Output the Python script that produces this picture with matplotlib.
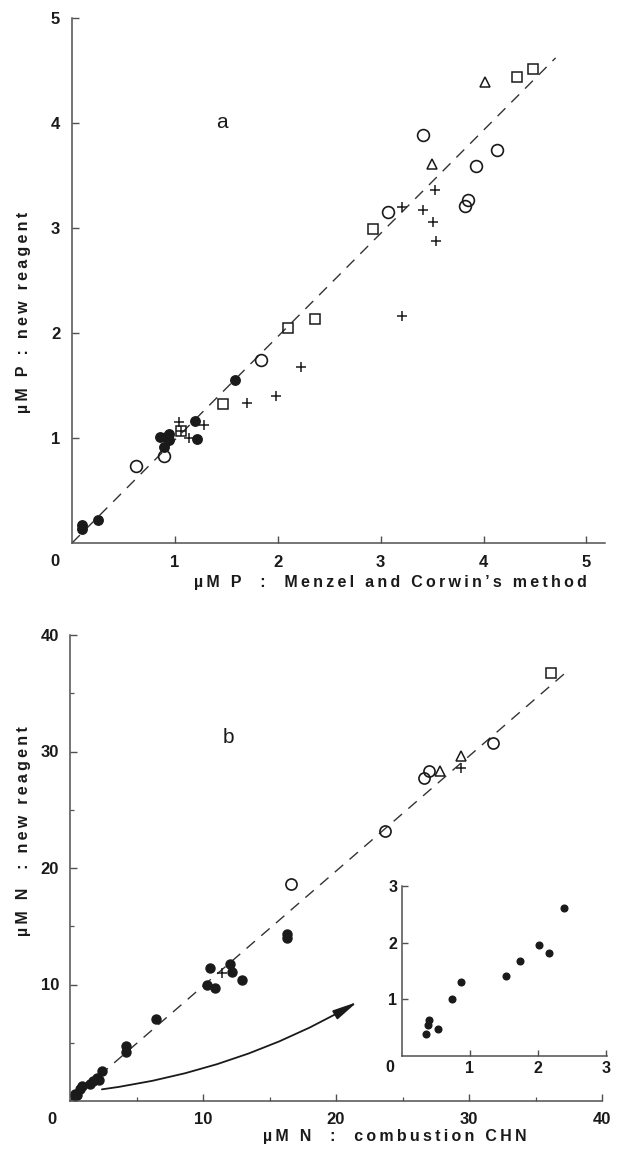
import matplotlib
matplotlib.use("Agg")
import matplotlib.pyplot as plt
from matplotlib.ticker import FixedLocator

plt.rcParams['font.family'] = ['Liberation Sans', 'DejaVu Sans']

# ---------------- data : panel a (phosphorus) ----------------
a_filled_x = [0.10, 0.10, 0.25, 0.89, 0.86, 0.91, 0.94, 0.94, 1.21, 1.20, 1.58]
a_filled_y = [0.17, 0.13, 0.22, 0.91, 1.01, 1.01, 1.04, 0.98, 0.99, 1.16, 1.55]
a_circle_x = [0.62, 0.89, 1.84, 3.07, 3.82, 3.85, 3.93, 4.13, 3.41]
a_circle_y = [0.73, 0.83, 1.74, 3.15, 3.21, 3.27, 3.59, 3.74, 3.89]
a_square_x = [1.06, 1.47, 2.10, 2.36, 2.93, 4.32, 4.48]
a_square_y = [1.07, 1.32, 2.05, 2.13, 2.99, 4.44, 4.51]
a_tri_x = [3.50, 4.01]
a_tri_y = [3.61, 4.39]
a_plus_x = [1.04, 1.06, 1.14, 1.28, 1.70, 1.98, 2.23, 3.21, 3.21, 3.41, 3.51, 3.53, 3.54]
a_plus_y = [1.15, 1.07, 1.00, 1.12, 1.33, 1.40, 1.68, 2.16, 3.20, 3.17, 3.06, 3.36, 2.88]
a_line_x = [0.0, 4.70]
a_line_y = [0.0, 4.62]
a_ticks = [1, 2, 3, 4, 5]

# ---------------- data : panel b (nitrogen) ----------------
b_circle_x = [16.6, 23.7, 26.6, 27.0, 31.8]
b_circle_y = [18.6, 23.2, 27.7, 28.3, 30.7]
b_tri_x = [27.8, 29.4]
b_tri_y = [28.3, 29.6]
b_plus_x = [11.4, 29.4]
b_plus_y = [11.0, 28.6]
b_square_x = [36.2]
b_square_y = [36.7]
b_filled_x = [16.3, 16.3, 12.0, 10.5, 12.2, 12.9, 10.3, 10.9, 6.5, 4.2, 4.2]
b_filled_y = [14.3, 14.0, 11.8, 11.4, 11.1, 10.4, 10.0, 9.7, 7.0, 4.7, 4.2]
inset_x = [0.35, 0.39, 0.40, 0.53, 0.73, 0.87, 1.53, 1.74, 2.02, 2.17, 2.38]
inset_y = [0.39, 0.55, 0.63, 0.48, 1.01, 1.31, 1.42, 1.68, 1.96, 1.81, 2.61]
b_line_x = [0.0, 37.5]
b_line_y = [0.0, 37.0]
b_major = [10, 20, 30, 40]
b_minor = [5, 15, 25, 35]
inset_ticks = [1, 2, 3]

W, H = 618, 1153
fig = plt.figure(figsize=(W / 100, H / 100), dpi=100)

SP = '#505050'
INK = '#1a1a1a'


def px_axes(x0, y_top, x1, y_bot):
    return fig.add_axes([x0 / W, 1 - y_bot / H, (x1 - x0) / W, (y_bot - y_top) / H])


def style(ax, pad, size=12):
    for s in ('top', 'right'):
        ax.spines[s].set_visible(False)
    for s in ('left', 'bottom'):
        ax.spines[s].set_color(SP)
        ax.spines[s].set_linewidth(1.1)
    ax.tick_params(which='major', direction='in', length=5, width=1, color=SP,
                   labelsize=size, pad=pad, labelcolor=INK)
    ax.tick_params(which='minor', direction='in', length=3, width=0.9, color=SP)
    for lab in ax.get_xticklabels() + ax.get_yticklabels():
        lab.set_fontweight('bold')
    ax.patch.set_alpha(0)


def spaced(s):
    return '\u2009'.join(s)


mk = dict(linestyle='none', color=INK)
dash = dict(color='#333333', lw=1.0, dashes=(8, 6))

# ---------------- panel a ----------------
ax = px_axes(72, 18, 605, 543)
ax.set_xlim(0, 5.18)
ax.set_ylim(0, 5)
ax.plot(a_line_x, a_line_y, **dash)
ax.plot(a_filled_x, a_filled_y, marker='o', ms=6.8, mfc=INK, mec=INK, **mk)
ax.plot(a_circle_x, a_circle_y, marker='o', ms=8.5, mfc='none', mec=INK, mew=1.2, **mk)
ax.plot(a_square_x, a_square_y, marker='s', ms=7, mfc='none', mec=INK, mew=1.1, **mk)
ax.plot(a_tri_x, a_tri_y, marker='^', ms=7.5, mfc='none', mec=INK, mew=1.1, **mk)
ax.plot(a_plus_x, a_plus_y, marker='+', ms=7, mec=INK, mew=1.1, **mk)
ax.xaxis.set_major_locator(FixedLocator(a_ticks))
ax.yaxis.set_major_locator(FixedLocator(a_ticks))
style(ax, pad=8.5)
ax.annotate('0', xy=(0, 0), xytext=(-12, -13.5), textcoords='offset points',
            ha='center', va='center', fontsize=12, fontweight='bold', color=INK)
ax.text(1.46, 4.0, 'a', fontsize=15, color=INK, ha='center', va='center')

fig.text(24 / W, 1 - 312 / H, spaced('µM P : new reagent'), rotation=90,
         ha='center', va='center', fontsize=11.5, fontweight='bold', color=INK)
fig.text(390 / W, 1 - 582 / H, spaced('µM P  :  Menzel and Corwin\u2019s method'),
         ha='center', va='center', fontsize=11.5, fontweight='bold', color=INK)

# ---------------- panel b ----------------
bx = px_axes(70, 635, 602, 1101)
bx.set_xlim(0, 40)
bx.set_ylim(0, 40)
bx.plot(b_line_x, b_line_y, **dash)
bx.plot(b_filled_x, b_filled_y, marker='o', ms=6.5, mfc=INK, mec=INK, **mk)
bx.plot(inset_x, inset_y, marker='o', ms=6.5, mfc=INK, mec=INK, **mk)
bx.plot(b_circle_x, b_circle_y, marker='o', ms=8, mfc='none', mec=INK, mew=1.2, **mk)
bx.plot(b_tri_x, b_tri_y, marker='^', ms=7, mfc='none', mec=INK, mew=1.1, **mk)
bx.plot(b_square_x, b_square_y, marker='s', ms=7, mfc='none', mec=INK, mew=1.1, **mk)
bx.plot(b_plus_x, b_plus_y, marker='+', ms=7, mec=INK, mew=1.1, **mk)
bx.xaxis.set_major_locator(FixedLocator(b_major))
bx.yaxis.set_major_locator(FixedLocator(b_major))
bx.xaxis.set_minor_locator(FixedLocator(b_minor))
bx.yaxis.set_minor_locator(FixedLocator(b_minor))
style(bx, pad=8)
bx.annotate('0', xy=(0, 0), xytext=(-13, -13), textcoords='offset points',
            ha='center', va='center', fontsize=12, fontweight='bold', color=INK)
bx.text(11.9, 31.2, 'b', fontsize=15, color=INK, ha='center', va='center')
bx.annotate('', xy=(21.6, 8.5), xytext=(2.4, 1.0),
            arrowprops=dict(arrowstyle='-|>,head_length=1.5,head_width=0.3',
                            connectionstyle='arc3,rad=0.1', color=INK, lw=1.3,
                            shrinkA=0, shrinkB=0))

fig.text(24 / W, 1 - 831 / H, spaced('µM N  : new reagent'), rotation=90,
         ha='center', va='center', fontsize=11.5, fontweight='bold', color=INK)
fig.text(395 / W, 1 - 1137 / H, spaced('µM N  :  combustion CHN'),
         ha='center', va='center', fontsize=11.5, fontweight='bold', color=INK)

# ---------------- inset ----------------
ix = px_axes(402, 886, 607, 1056)
ix.set_xlim(0, 3.02)
ix.set_ylim(0, 3)
ix.plot(inset_x, inset_y, marker='o', ms=4.8, mfc=INK, mec=INK, **mk)
ix.xaxis.set_major_locator(FixedLocator(inset_ticks))
ix.yaxis.set_major_locator(FixedLocator(inset_ticks))
style(ix, pad=3.5, size=11.5)
ix.tick_params(which='major', length=4)
ix.annotate('0', xy=(0, 0), xytext=(-8.6, -8), textcoords='offset points',
            ha='center', va='center', fontsize=11.5, fontweight='bold', color=INK)

fig.savefig('out.png', dpi=100)
